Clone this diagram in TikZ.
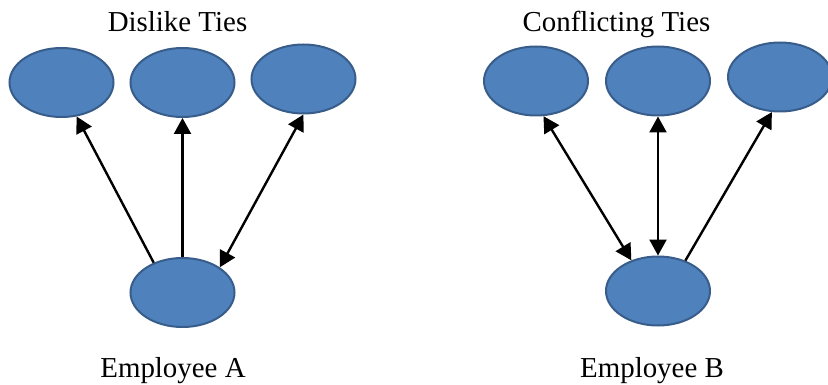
\documentclass[tikz,border=0pt]{standalone}
\usepackage{fontspec}
\setmainfont{Liberation Serif}
\usepackage{xcolor}
\usepackage{tikz}
\definecolor{tieblue}{RGB}{79, 129, 189}
\definecolor{tieedge}{RGB}{56, 93, 138}
\usetikzlibrary{arrows.meta,positioning,shapes.geometric}

\begin{document}
\begin{tikzpicture}[x=1pt, y=1pt,
        tie/.style={ellipse, draw=tieedge, fill=tieblue, line width=2pt,
                    minimum width=104pt, minimum height=69pt},
        caption/.style={font=\fontsize{28.9}{34}\selectfont, anchor=base},
        oneway/.style={-{Triangle[length=16pt, width=17pt]}, line width=2.4pt},
        twoway/.style={{Triangle[length=16pt, width=17pt]}-{Triangle[length=16pt, width=17pt]}, line width=2.4pt}]
            \useasboundingbox (0,0) rectangle (828,-385);

            % Dislike ties
            \node[tie] (dl1) at (61.5,-82.5) {};
            \node[tie, right=15pt of dl1] (dl2) {};
            \node[tie, right=15pt of dl2, yshift=3.5pt] (dl3) {};
            \node[tie, below=139pt of dl2] (empA) {};
            \node[caption] (dltitle) at (177.5,-32) {Dislike Ties};
            \node[caption] (empAname) at (173,-377) {Employee A};

            \draw[oneway] (empA.134) -- (dl1.-66);
            \draw[oneway] (empA.north) -- (dl2.south);
            \draw[twoway] (empA.34) -- (dl3.south);

            % Conflicting ties
            \node[tie] (cf1) at (536,-81) {};
            \node[tie, right=16pt of cf1] (cf2) {};
            \node[tie, right=16pt of cf2, yshift=4pt] (cf3) {};
            \node[tie, below=139pt of cf2] (empB) {};
            \node[caption] (cftitle) at (616.5,-32) {Conflicting Ties};
            \node[caption] (empBname) at (652,-377) {Employee B};

            \draw[twoway] (empB.131) -- (cf1.-78);
            \draw[twoway] (empB.north) -- (cf2.south);
            \draw[oneway] (empB.48) -- (cf3.-103);
        \end{tikzpicture}
\end{document}
